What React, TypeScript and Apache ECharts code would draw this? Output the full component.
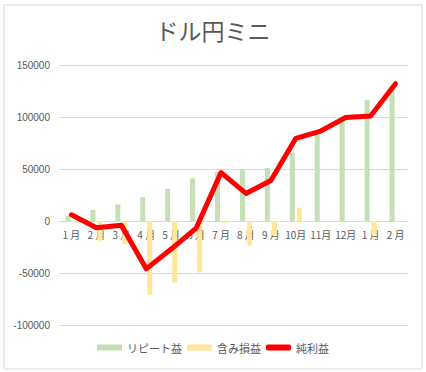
import React, { useEffect, useRef } from "react";
import * as echarts from "echarts";

const categories = ["1 月", "2 月", "3 月", "4 月", "5 月", "6 月", "7 月", "8 月", "9 月", "10月", "11月", "12月", "1 月", "2 月"];
const repeatProfit = [5000, 10500, 16000, 23000, 31000, 41000, 47000, 50000, 51000, 65500, 85000, 95500, 116500, 129000];
const unrealized = [-1500, -19000, -22000, -71000, -59000, -49500, -2000, -23500, -13500, 12800, -500, -500, -13500, -1000];
const netProfit = [6000, -6500, -4000, -46000, -27000, -7000, 46500, 26500, 39000, 79500, 86500, 99500, 101000, 132000];
const seriesNames = ["リピート益", "含み損益", "純利益"];
const titleText = "ドル円ミニ";

const FONT = "'Noto Sans CJK JP', 'Liberation Sans', sans-serif";
const TEXT = "#595959";
const GRID = "#d9d9d9";

export default function App() {
  const ref = useRef<HTMLDivElement>(null);
  useEffect(() => {
    document.body.style.margin = "0";
    const chart = echarts.init(ref.current!, undefined, { renderer: "svg" });
    chart.setOption({
      animation: false,
      backgroundColor: "#ffffff",
      title: {
        text: titleText,
        left: "center",
        top: 13,
        textStyle: { fontFamily: FONT, fontSize: 23, fontWeight: "normal", color: TEXT },
      },
      graphic: [
        {
          type: "rect",
          shape: { x: 4, y: 5, width: 418, height: 364 },
          style: { fill: "none", stroke: GRID, lineWidth: 1 },
          silent: true,
        },
      ],
      legend: {
        bottom: 14,
        left: "center",
        itemWidth: 25,
        itemHeight: 6,
        itemGap: 5,
        textStyle: { fontFamily: FONT, fontSize: 11, color: TEXT },
        data: [
          { name: seriesNames[0], icon: "rect" },
          { name: seriesNames[1], icon: "rect" },
          { name: seriesNames[2], icon: "roundRect", itemStyle: { color: "#FF0000" } },
        ],
      },
      grid: { left: 59, right: 18, top: 65, bottom: 47, containLabel: false },
      xAxis: {
        type: "category",
        data: categories,
        offset: -104,
        axisLine: { show: true, onZero: false, lineStyle: { color: GRID } },
        axisTick: { show: false },
        axisLabel: { color: TEXT, fontFamily: FONT, fontSize: 10, margin: 8, interval: 0 },
      },
      yAxis: {
        type: "value",
        min: -100000,
        max: 150000,
        interval: 50000,
        axisLine: { show: false },
        axisTick: { show: false },
        splitLine: { lineStyle: { color: GRID } },
        axisLabel: {
          color: TEXT,
          fontFamily: "'Liberation Sans', sans-serif",
          fontSize: 10,
          margin: 9,
          formatter: (v: number) => String(v),
        },
      },
      series: [
        {
          name: seriesNames[0],
          type: "bar",
          data: repeatProfit,
          barWidth: 5,
          barGap: "40%",
          itemStyle: { color: "#C5E0B4" },
        },
        {
          name: seriesNames[1],
          type: "bar",
          data: unrealized,
          barWidth: 5,
          barGap: "40%",
          itemStyle: { color: "#FFE699" },
        },
        {
          name: seriesNames[2],
          type: "line",
          data: netProfit,
          symbol: "none",
          z: 5,
          lineStyle: { color: "#FF0000", width: 5, cap: "round", join: "round" },
          itemStyle: { color: "#FF0000" },
        },
      ],
    });
    return () => chart.dispose();
  }, []);
  return <div ref={ref} style={{ width: 426, height: 372 }} />;
}
